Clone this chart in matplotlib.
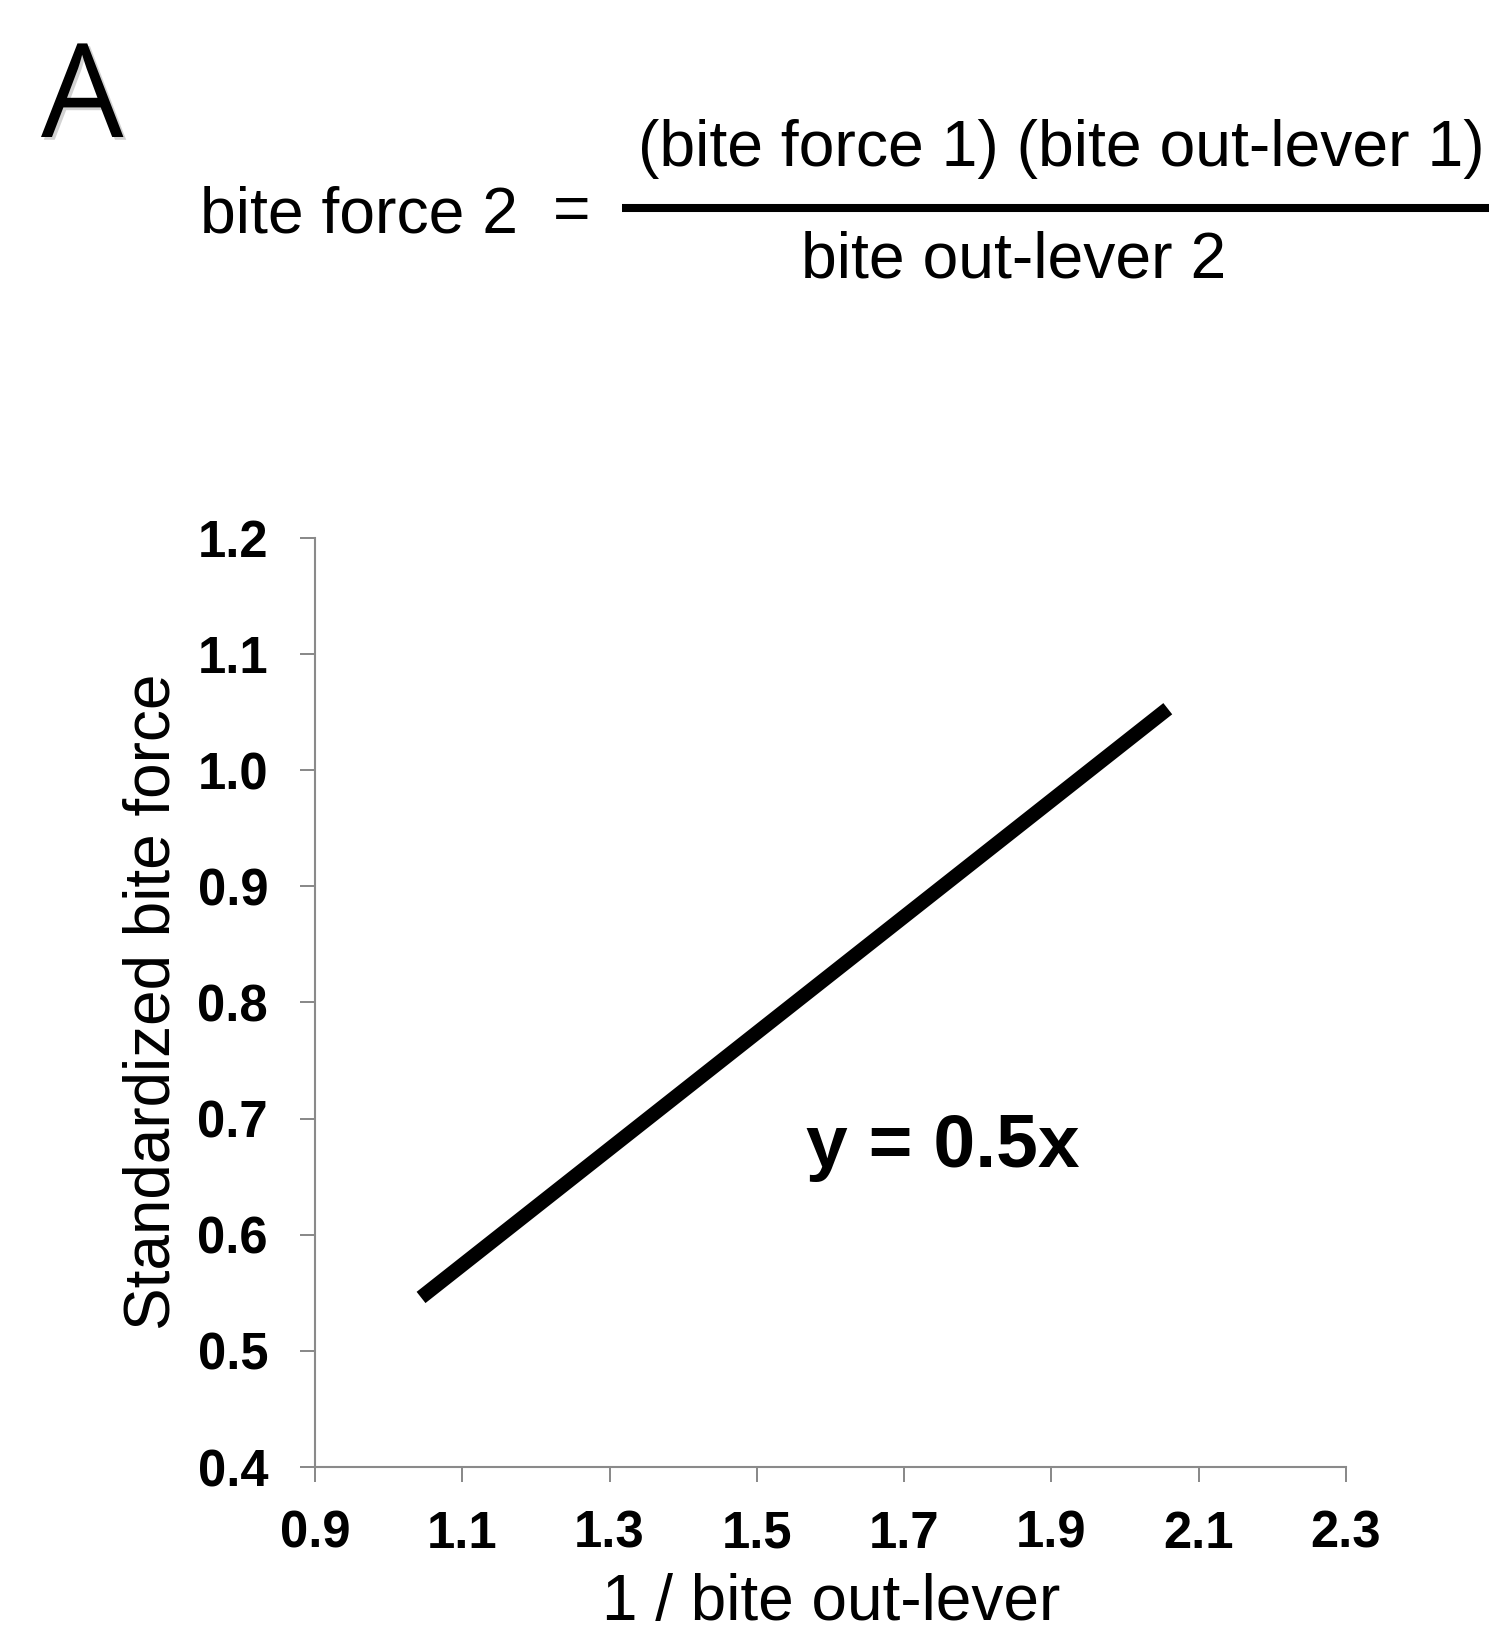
import matplotlib
matplotlib.use("Agg")
import matplotlib.pyplot as plt
import matplotlib.patheffects as pe
from matplotlib.lines import Line2D

# ---- data ----
line_x = [1.044, 2.058]
line_y = [0.546, 1.053]
x_ticks = [0.9, 1.1, 1.3, 1.5, 1.7, 1.9, 2.1, 2.3]
x_tick_labels = ["0.9", "1.1", "1.3", "1.5", "1.7", "1.9", "2.1", "2.3"]
y_ticks = [0.4, 0.5, 0.6, 0.7, 0.8, 0.9, 1.0, 1.1, 1.2]
y_tick_labels = ["0.4", "0.5", "0.6", "0.7", "0.8", "0.9", "1.0", "1.1", "1.2"]
x_label = "1 / bite out-lever"
y_label = "Standardized bite force"
annotation = "y = 0.5x"
panel_letter = "A"
eq_left = "bite force 2"
eq_num = "(bite force 1) (bite out-lever 1)"
eq_den = "bite out-lever 2"

W, H = 1489, 1626
DPI = 100
plt.rcParams['font.family'] = ['Liberation Sans', 'DejaVu Sans']

fig = plt.figure(figsize=(W / DPI, H / DPI), dpi=DPI)

def fx(px):
    return px / W

def fy(py):
    return 1 - py / H

ax_left, ax_right, ax_top, ax_bottom = 315, 1346, 538, 1467
ax = fig.add_axes([fx(ax_left), fy(ax_bottom), (ax_right - ax_left) / W, (ax_bottom - ax_top) / H])

ax.plot(line_x, line_y, color='black', lw=10.3, solid_capstyle='butt')
ax.set_xlim(0.9, 2.3)
ax.set_ylim(0.4, 1.2)

spine_col = '#8a8a8a'
for s in ['top', 'right']:
    ax.spines[s].set_visible(False)
for s in ['left', 'bottom']:
    ax.spines[s].set_color(spine_col)
    ax.spines[s].set_linewidth(1.5)

ax.set_xticks(x_ticks)
ax.set_xticklabels(x_tick_labels, fontsize=36.5, fontweight='bold')
ax.set_yticks(y_ticks)
ax.set_yticklabels(y_tick_labels, fontsize=36.5, fontweight='bold')
ax.tick_params(axis='both', direction='out', length=10.8, width=1.44, color=spine_col)
ax.tick_params(axis='y', pad=23)
ax.tick_params(axis='x', pad=20)

ax.text(1.753, 0.6584, annotation, fontsize=54, fontweight='bold', ha='center', va='baseline')

# axis labels
fig.text(fx(153), fy(1002), y_label, rotation=90, fontsize=46, ha='center', va='center')
fig.text(fx(831), fy(1573), x_label, fontsize=46, ha='center', va='top')

# equation
eq_fs = 46.3
fig.text(fx(200), fy(232), eq_left, fontsize=eq_fs, ha='left', va='baseline')
fig.text(fx(553), fy(230), "=", fontsize=eq_fs, ha='left', va='baseline')
fig.text(fx(638), fy(166), eq_num, fontsize=eq_fs, ha='left', va='baseline')
fig.text(fx(801), fy(277), eq_den, fontsize=eq_fs, ha='left', va='baseline')
fig.add_artist(Line2D([fx(622), fx(1489)], [fy(208), fy(208)], color='black', lw=5.8,
                      solid_capstyle='butt', transform=fig.transFigure))

# panel letter
fig.text(fx(41), fy(137), panel_letter, fontsize=94, family=['Open Sans', 'DejaVu Sans'],
         ha='left', va='baseline',
         path_effects=[pe.withSimplePatchShadow(offset=(2, -2), shadow_rgbFace='gray', alpha=0.35)])

fig.savefig('out.png', dpi=DPI)
